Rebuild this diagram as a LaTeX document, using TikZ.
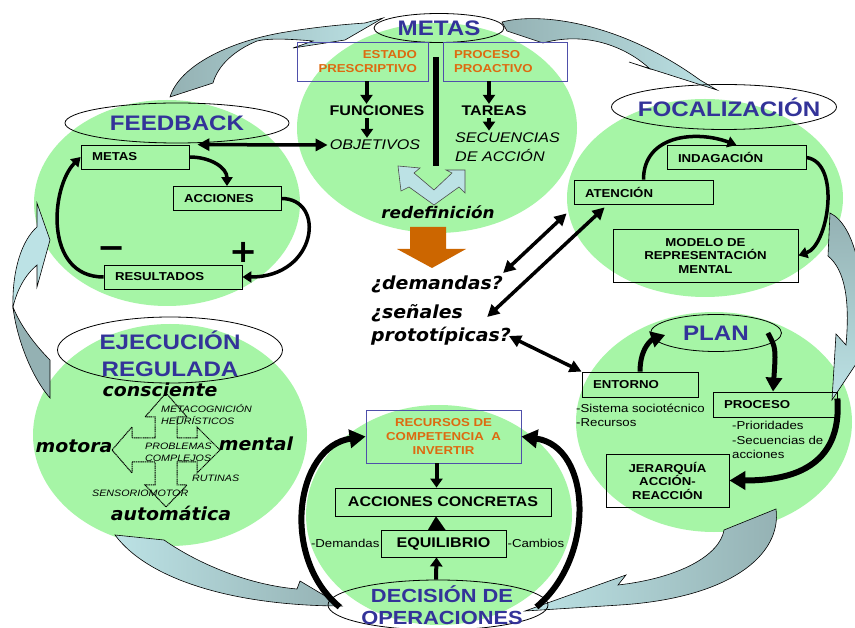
\documentclass[tikz,border=0pt]{standalone}
\usepackage{fontspec}
\setmainfont{Liberation Sans}[FakeStretch=1.15]
\newfontfamily\fuentecomic{DejaVu Sans}[FakeStretch=1.05]
\usetikzlibrary{shapes.geometric,arrows.meta,positioning,calc}

\definecolor{verde}{HTML}{A6F5A6}
\definecolor{azultit}{HTML}{333399}
\definecolor{naranja}{HTML}{DD6A10}
\definecolor{marco}{HTML}{4F4FAA}
\definecolor{cintaclara}{HTML}{BCE2E5}
\definecolor{cintaoscura}{HTML}{94B1B3}
\definecolor{naranjaflecha}{HTML}{CC6600}

\tikzset{
  zona/.style={fill=verde},
  cinta/.style={draw=black, line width=0.6pt},
  etiqueta/.style={draw, ellipse, line width=0.8pt, inner sep=0pt},
  titulo/.style={text=azultit, font=\bfseries\fontsize{21}{25}\selectfont, align=center, inner sep=0pt},
  caja/.style={draw, line width=0.8pt, text width=#1, inner xsep=11pt, inner ysep=0pt,
    minimum height=24pt, align=left, font=\bfseries\fontsize{11.5}{13}\selectfont},
  cajac/.style={draw, line width=0.8pt, inner sep=0pt, align=center, font=\bfseries\fontsize{11.5}{13.5}\selectfont},
  marcoazul/.style={draw=marco, line width=0.8pt, text=naranja, inner xsep=11pt, inner ysep=0pt,
    align=center, font=\bfseries\fontsize{11.5}{14}\selectfont},
  manuscrita/.style={font=\fuentecomic\bfseries\itshape\fontsize{18}{20}\selectfont, inner sep=2pt},
  chica/.style={font=\itshape\fontsize{9.3}{12}\selectfont, align=left, inner sep=1pt},
  lista/.style={font=\fontsize{11.5}{14.5}\selectfont, align=left, inner sep=1pt},
  cruz/.style={dash pattern=on 1.2pt off 0.6pt, line width=1pt},
  curva/.style={line width=3.5pt, -{Triangle[length=9pt,width=11pt]}},
  doble/.style={line width=3.5pt, {Triangle[length=12pt,width=12pt]}-{Triangle[length=12pt,width=12pt]}},
  flechita/.style={line width=4pt, -{Triangle[length=9pt,width=12pt]}},
  grueso/.style={line width=5pt, -{Triangle[length=14pt,width=16pt]}},
  muygrueso/.style={line width=6pt, -{Triangle[length=16pt,width=18pt]}},
  arco/.style={line width=6pt, -{Triangle[length=16pt,width=18pt]}}
}

\begin{document}
\begin{tikzpicture}[x=1pt,y=-1pt]
	\useasboundingbox (0,0) rectangle (855,628);
	\fill[white] (0,0) rectangle (855,628);

	% zonas verdes
	\fill[zona] (437,128) ellipse [x radius=140, y radius=105];
	\fill[zona] (167,203) ellipse [x radius=133, y radius=103];
	\fill[zona] (705,198) ellipse [x radius=138, y radius=99];
	\fill[zona] (170,435) ellipse [x radius=137, y radius=111];
	\fill[zona] (714,422) ellipse [x radius=138, y radius=110];
	\fill[zona] (439,515) ellipse [x radius=133, y radius=110];

	% cintas del ciclo
	\draw[cinta, left color=cintaoscura, right color=cintaclara]
		(170,97) .. controls (180,65) and (230,42) .. (280,33)
		.. controls (320,26) and (352,24) .. (365,23) -- (383,18) -- (345,40) -- (293,48) -- (313,41)
		.. controls (290,39) and (270,38) .. (257,41) .. controls (235,50) and (218,65) .. (213,83) -- cycle;
	\draw[cinta, left color=cintaoscura, right color=cintaclara]
		(502,22) .. controls (540,12) and (620,22) .. (700,80) -- (717,90) -- (629,62) -- (650,69)
		.. controls (630,50) and (590,30) .. (543,43) -- (507,31) -- cycle;
	\draw[cinta, top color=cintaoscura, bottom color=cintaclara]
		(830,213) .. controls (855,225) and (866,280) .. (862,335) -- (872,340) -- (832,400) -- (836,334) -- (846,345)
		.. controls (850,300) and (845,270) .. (828,256) -- cycle;
	\draw[cinta, left color=cintaclara, right color=cintaoscura]
		(776,509) .. controls (782,555) and (730,598) .. (620,605) -- (525,611) -- (626,575) -- (618,585)
		.. controls (680,578) and (720,555) .. (724,530) -- cycle;
	\draw[cinta, left color=cintaclara, right color=cintaoscura]
		(115,535) -- (164,540) .. controls (200,565) and (250,585) .. (297,589) -- (300,581) -- (342,606)
		.. controls (240,606) and (150,582) .. (115,535) -- cycle;
	\draw[cinta, fill=cintaclara] (13,307) .. controls (12,270) and (22,240) .. (37,227) -- (37,203) -- (50,240)
		-- (37,287) -- (37,265) .. controls (25,275) and (17,290) .. (13,307) -- cycle;
	\draw[cinta, fill=cintaoscura] (13,307) .. controls (16,335) and (30,375) .. (50,398) -- (50,360)
		.. controls (35,345) and (20,325) .. (13,307) -- cycle;

	% elipses de los titulos
	\node[etiqueta, minimum width=130pt, minimum height=29pt] (metas) at (439,28) {};
	\node[titulo] at (metas) {METAS};
	\node[etiqueta, minimum width=224pt, minimum height=40pt] (feedback) at (177,123) {};
	\node[titulo] at (feedback) {FEEDBACK};
	\node[etiqueta, minimum width=225pt, minimum height=45pt] (focalizacion) at (724,107) {};
	\node[titulo] at ([xshift=5pt]focalizacion.center) {FOCALIZACIÓN};
	\node[etiqueta, minimum width=225pt, minimum height=66pt] (ejecucion) at (170,350) {};
	\node[titulo, font=\bfseries\fontsize{21}{27}\selectfont] at ([yshift=-4pt]ejecucion.center) {EJECUCIÓN\\REGULADA};
	\node[etiqueta, minimum width=131pt, minimum height=37pt] (plan) at (716,333) {};
	\node[titulo] at (plan) {PLAN};
	\node[etiqueta, minimum width=220pt, minimum height=50pt] (decision) at (438,605) {};
	\node[titulo, font=\bfseries\fontsize{19}{22.5}\selectfont] at ([xshift=4pt]decision.center) {DECISIÓN DE\\OPERACIONES};

	% metas
	\node[marcoazul, text width=109pt, align=right, minimum height=39pt] (estado) at (362.5,61.5) {ESTADO\\PRESCRIPTIVO};
	\node[marcoazul, text width=102pt, align=left, minimum height=39pt] (proactivo) at (505,61.5) {PROCESO\\PROACTIVO};
	\node[font=\bfseries\fontsize{14}{16}\selectfont, inner sep=2pt] (funciones) at (377,111) {FUNCIONES};
	\node[font=\itshape\fontsize{14}{16}\selectfont, inner sep=2pt] (objetivos) at (375,145) {OBJETIVOS};
	\node[font=\bfseries\fontsize{14}{16}\selectfont, inner sep=2pt] (tareas) at (494,111) {TAREAS};
	\node[font=\itshape\fontsize{14}{18.5}\selectfont, align=left, anchor=west, inner sep=2pt] (secuencias) at (453,147) {SECUENCIAS\\DE ACCIÓN};
	\draw[flechita] ([xshift=4pt]estado.south) -- ([xshift=4pt]estado.south |- funciones.north);
	\draw[flechita] ([xshift=-10pt]funciones.south) -- ([xshift=-10pt]funciones.south |- objetivos.north);
	\draw[flechita] ([xshift=-16pt]proactivo.south) -- ([xshift=-16pt]proactivo.south |- tareas.north);
	\draw[flechita] ([xshift=-5pt]tareas.south) -- ([xshift=-5pt]tareas.south |- secuencias.north);
	\coordinate (barra) at (436,166);
	\draw[line width=6pt] (436,57) -- (barra);
	\filldraw[fill=cintaclara, draw=black!70, line width=0.6pt]
		(398,166) -- (420,168) -- (414,173) -- (434,190) -- (452,173) -- (446,170) -- (465,170)
		-- (465,193) -- (459,187) -- (434,205) -- (409,187) -- (401,191) -- cycle;
	\node[manuscrita, font=\fuentecomic\bfseries\itshape\fontsize{16}{18}\selectfont] (redef) at (438,212) {redefinición};
	\fill[naranjaflecha] (410,227) -- (446,227) -- (446,249) -- (466,249) -- (432,268) -- (397,249) -- (410,249) -- cycle;

	% preguntas centrales
	\node[manuscrita, anchor=west] (demandas) at (369,284) {¿demandas?};
	\node[manuscrita, anchor=west] (senales) at (369,313) {¿señales};
	\node[manuscrita, anchor=west] (prototipicas) at (369,336) {prototípicas?};

	% feedback
	\node[caja=86pt] (fbmetas) at (135,157) {METAS};
	\node[caja=86pt] (fbacciones) at (227,198.5) {ACCIONES};
	\node[caja=116pt] (resultados) at (173,277) {RESULTADOS};
	\draw[curva] (fbmetas.east) .. controls +(22,0) and +(0,-18) .. (fbacciones.north);
	\draw[curva] (fbacciones.east) .. controls +(45,0) and +(75,0) .. (resultados.east);
	\draw[curva] (resultados.west) .. controls +(-60,0) and +(-30,30) .. (fbmetas.west);
	\node[font=\fuentecomic\bfseries\fontsize{32}{32}\selectfont, inner sep=0pt] (menos) at (112,253) {−};
	\node[font=\fuentecomic\bfseries\fontsize{32}{32}\selectfont, inner sep=0pt] (mas) at (244,252) {+};
	\draw[doble] ($(fbmetas.north east)+(8,0)$) -- (objetivos.west);

	% focalizacion
	\node[caja=117pt] (indagacion) at (736.5,157.5) {INDAGACIÓN};
	\node[caja=117pt] (atencion) at (643.5,192) {ATENCIÓN};
	\node[cajac, minimum width=185pt, minimum height=53pt] (modelo) at (705.5,255.5) {MODELO DE\\REPRESENTACIÓN\\MENTAL};
	\draw[curva] (atencion.north) .. controls +(0,-45) and +(-40,-15) .. (indagacion.north);
	\draw[curva] (indagacion.east) .. controls +(35,5) and +(30,-10) .. (modelo.east);
	\draw[doble] ($(demandas.east)+(-2,-11)$) -- ($(atencion.south west)+(-7,9)$);
	\draw[doble] ($(senales.east)+(22,4)$) -- ($(atencion.south west)+(31,3)$);

	% plan
	\node[caja=94pt, minimum height=25pt] (entorno) at (640,384.5) {ENTORNO};
	\node[caja=102pt, minimum height=25pt] (proceso) at (775,404.5) {PROCESO};
	\node[cajac, minimum width=123pt, minimum height=53pt] (jerarquia) at (667.5,480.5) {JERARQUÍA\\ACCIÓN-\\REACCIÓN};
	\node[lista, anchor=west] (sistema) at (575,415.5) {-Sistema sociotécnico\\-Recursos};
	\node[lista, anchor=west] (prioridades) at (731,440) {-Prioridades\\-Secuencias de\\acciones};
	\draw[grueso] (entorno.north) .. controls +(0,-25) and +(-12,4) .. ($(plan.west)+(15,2)$);
	\draw[grueso] ($(plan.east)+(-14,0)$) .. controls +(8,15) .. ($(proceso.north)+(-2,0)$);
	\draw[muygrueso] ($(proceso.east)+(0,-6)$) .. controls +(5,70) and +(60,0) .. (jerarquia.east);
	\draw[doble] ($(prototipicas.east)+(-4,0)$) -- (entorno.north west);

	% ejecucion regulada
	\draw[cruz] (166,393) -- (187,417) -- (177,417) -- (177,438) -- (197,438) -- (197,427) -- (220,450)
		-- (197,473) -- (197,462) -- (177,462) -- (177,485) -- (187,485) -- (166,507) -- (145,485)
		-- (155,485) -- (155,462) -- (132,462) -- (132,473) -- (112,450) -- (132,427) -- (132,438)
		-- (155,438) -- (155,417) -- (145,417) -- cycle;
	\node[manuscrita] (consciente) at (160,390) {consciente};
	\node[manuscrita] (motora) at (74,446) {motora};
	\node[manuscrita] (mental) at (256,444) {mental};
	\node[manuscrita] (automatica) at (171,513) {automática};
	\node[chica, anchor=west] (metacog) at (160,415) {METACOGNICIÓN\\HEURÍSTICOS};
	\node[chica, anchor=west] (problemas) at (144,452.5) {PROBLEMAS\\COMPLEJOS};
	\node[chica, anchor=west] (rutinas) at (191,478) {RUTINAS};
	\node[chica, anchor=west] (sensorio) at (91,493) {SENSORIOMOTOR};

	% decision de operaciones
	\node[marcoazul, minimum width=155pt, minimum height=53pt] (recursos) at (443.5,436.5) {RECURSOS DE\\COMPETENCIA\ \ A\\INVERTIR};
	\node[cajac, minimum width=216pt, minimum height=28pt, font=\bfseries\fontsize{14}{16}\selectfont] (concretas) at (443,502) {ACCIONES CONCRETAS};
	\node[cajac, minimum width=125pt, minimum height=27pt, font=\bfseries\fontsize{14}{16}\selectfont] (equilibrio) at (443.5,543.5) {EQUILIBRIO};
	\node[lista, anchor=east] (demandas2) at (equilibrio.west) {-Demandas};
	\node[lista, anchor=west] (cambios) at (equilibrio.east) {-Cambios};
	\draw[flechita] ([xshift=-7pt]recursos.south) -- ([xshift=-7pt]recursos.south |- concretas.north);
	\draw[line width=0.1pt, -{Triangle[length=14pt,width=18pt]}] ([xshift=-7pt]equilibrio.north) -- ([xshift=-7pt]concretas.south);
	\draw[flechita] ($(decision.north)+(-2,0)$) -- ($(equilibrio.south)+(-7,0)$);
	\draw[arco] ($(decision.west)+(12,2)$) .. controls +(-60,-50) and +(-70,10) .. (recursos.west);
	\draw[arco] ($(decision.east)+(-12,2)$) .. controls +(60,-50) and +(70,10) .. (recursos.east);
\end{tikzpicture}
\end{document}
